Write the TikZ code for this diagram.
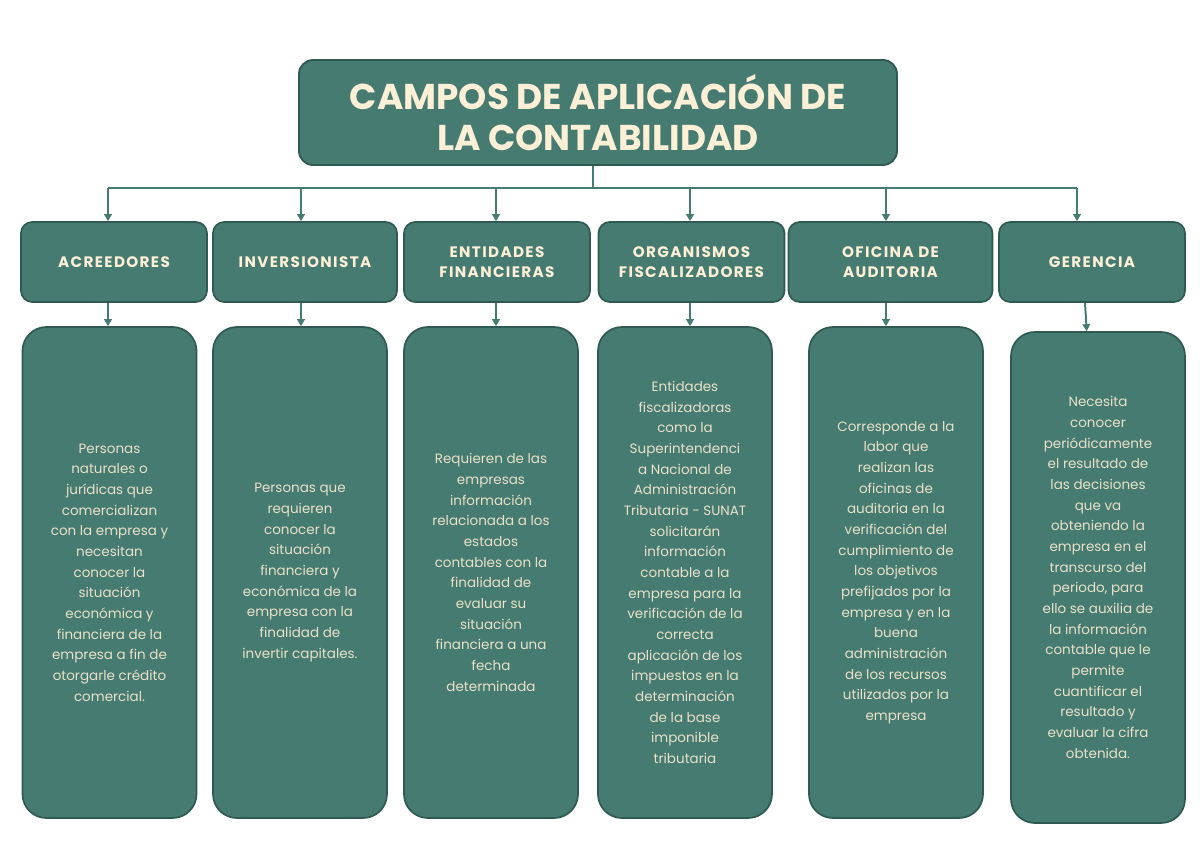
\documentclass[tikz,border=0pt]{standalone}
\usepackage{fontspec}
\setmainfont{Poppins}
\newfontfamily\headfont[LetterSpace=9]{Poppins}
\usetikzlibrary{arrows.meta}
\definecolor{teal1}{HTML}{467B71}
\definecolor{teal2}{HTML}{2F5A51}
\definecolor{cream}{HTML}{FDF0D6}
\definecolor{cream2}{HTML}{E9E1C9}
\tikzset{
  titlebox/.style={draw=teal2,fill=teal1,line width=1.3pt,rounded corners=10pt,minimum width=149.5mm,minimum height=26.25mm,text=cream,align=center,font=\fontsize{25.5}{29}\selectfont\bfseries},
  catbox/.style={draw=teal2,fill=teal1,line width=1.2pt,rounded corners=8pt,minimum width=46.5mm,minimum height=20mm,text=cream,align=center,font=\headfont\fontsize{10.8}{14.2}\selectfont\bfseries},
  descbox/.style={draw=teal2,fill=teal1,line width=1.2pt,rounded corners=17pt,minimum width=43.5mm,minimum height=122.75mm,text=cream2,align=center,font=\fontsize{9.6}{14.7}\selectfont},
  link/.style={draw=teal1,line width=1.4pt},
  arr/.style={link,-{Triangle[length=5pt,width=5.5pt]}}
}
\begin{document}
\begin{tikzpicture}[x=0.25mm,y=-0.25mm]
\useasboundingbox (0,0) rectangle (1200,849);
% title
\node[titlebox] (title) at (598,112.5) {CAMPOS DE APLICACIÓN DE\\LA CONTABILIDAD};
% categories
\node[catbox] (c1) at (114,262) {ACREEDORES};
\node[catbox,minimum width=46mm] (c2) at (305,262) {INVERSIONISTA};
\node[catbox] (c3) at (497,262) {ENTIDADES\\FINANCIERAS};
\node[catbox] (c4) at (691.5,262) {ORGANISMOS\\FISCALIZADORES};
\node[catbox,minimum width=51mm] (c5) at (890.5,262) {OFICINA DE\\AUDITORIA};
\node[catbox] (c6) at (1092,262) {GERENCIA};
% descriptions
\node[descbox] (d1) at (109.5,572.5) {Personas\\naturales o\\jurídicas que\\comercializan\\con la empresa y\\necesitan\\conocer la\\situación\\económica y\\financiera de la\\empresa a fin de\\otorgarle crédito\\comercial.};
\node[descbox] (d2) at (300,572.5) {Personas que\\requieren\\conocer la\\situación\\financiera y\\económica de la\\empresa con la\\finalidad de\\invertir capitales.};
\node[descbox] (d3) at (491,572.5) {Requieren de las\\empresas\\información\\relacionada a los\\estados\\contables con la\\finalidad de\\evaluar su\\situación\\financiera a una\\fecha\\determinada};
\node[descbox] (d4) at (685,572.5) {Entidades\\fiscalizadoras\\como la\\Superintendenci\\a Nacional de\\Administración\\Tributaria - SUNAT\\solicitarán\\información\\contable a la\\empresa para la\\verificación de la\\correcta\\aplicación de los\\impuestos en la\\determinación\\de la base\\imponible\\tributaria};
\node[descbox] (d5) at (896,572.5) {Corresponde a la\\labor que\\realizan las\\oficinas de\\auditoria en la\\verificación del\\cumplimiento de\\los objetivos\\prefijados por la\\empresa y en la\\buena\\administración\\de los recursos\\utilizados por la\\empresa};
\node[descbox] (d6) at (1098,577.5) {Necesita\\conocer\\periódicamente\\el resultado de\\las decisiones\\que va\\obteniendo la\\empresa en el\\transcurso del\\periodo, para\\ello se auxilia de\\la información\\contable que le\\permite\\cuantificar el\\resultado y\\evaluar la cifra\\obtenida.};
% connectors
\coordinate (bus) at (593,188);
\draw[link] (title.south -| bus) -- (bus);
\foreach \i/\x in {1/108,2/301,3/496,4/690,5/886,6/1077} {
  \coordinate (t\i) at (\x,188);
}
\draw[link] (t1) -- (t6);
\foreach \i in {1,...,6} \draw[arr] (t\i) -- (t\i |- c\i.north);
\foreach \i in {1,...,5} \draw[arr] (t\i |- c\i.south) -- (t\i |- d\i.north);
\draw[arr] ([xshift=-5]c6.south) -- ([xshift=-8]d6.north);
\end{tikzpicture}
\end{document}
